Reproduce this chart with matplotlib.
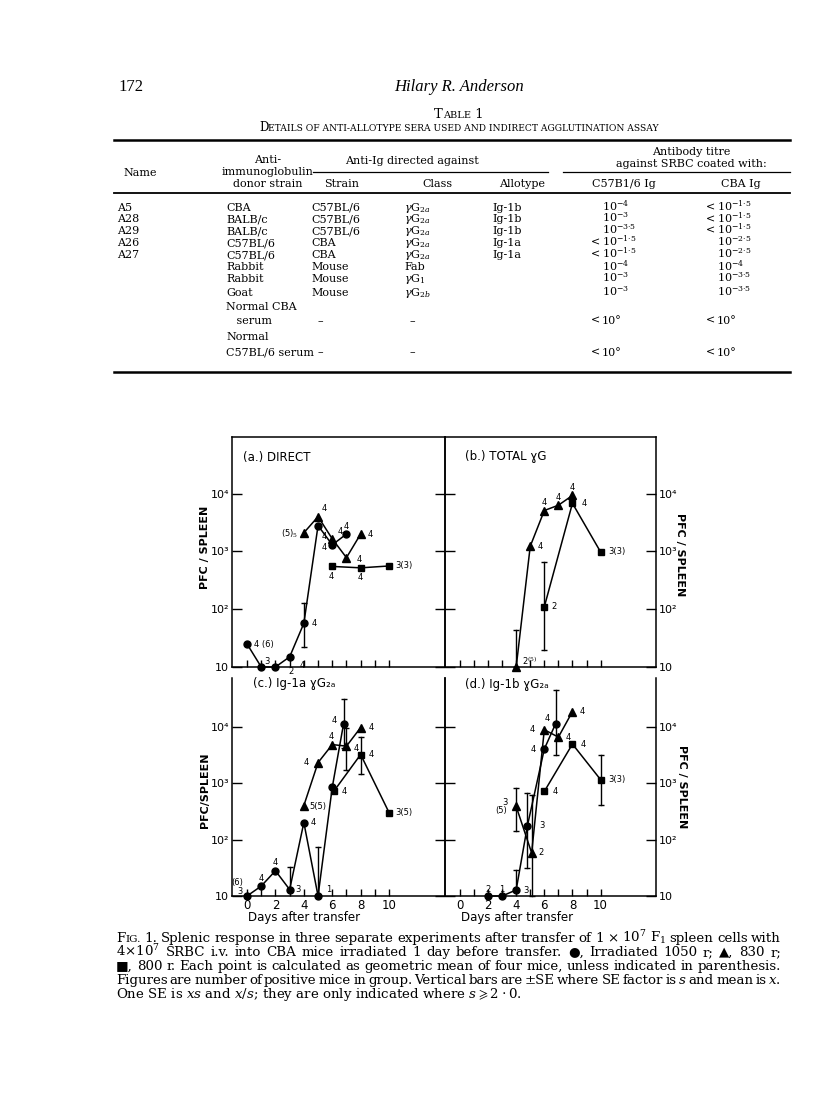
import numpy as np
import matplotlib
matplotlib.use('Agg')
import matplotlib.pyplot as plt
from matplotlib.ticker import NullLocator

plt.rcParams['mathtext.fontset'] = 'dejavuserif'
plt.rcParams['font.family'] = ['DejaVu Sans']
SERIF = ['DejaVu Serif', 'DejaVu Sans']
TIMES = ['Liberation Serif', 'DejaVu Serif']

W, H = 816, 1094

# ---------------- table data ----------------
tab_name = ['A5', 'A28', 'A29', 'A26', 'A27', '', '', '', '', '', '', '']
tab_donor = ['CBA', 'BALB/c', 'BALB/c', 'C57BL/6', 'C57BL/6', 'Rabbit', 'Rabbit', 'Goat',
             'Normal CBA', '   serum', 'Normal', 'C57BL/6 serum']
tab_strain = ['C57BL/6', 'C57BL/6', 'C57BL/6', 'CBA', 'CBA', 'Mouse', 'Mouse', 'Mouse',
              '', '\u2013', '', '\u2013']
tab_class = [r'$\gamma$G$_{2a}$'] * 5 + ['Fab', r'$\gamma$G$_1$', r'$\gamma$G$_{2b}$',
                                         '', '\u2013', '', '\u2013']
tab_allo = ['Ig-1b', 'Ig-1b', 'Ig-1b', 'Ig-1a', 'Ig-1a', '', '', '', '', '', '', '']
# titres: (less-than sign?, exponent text)
tab_c57 = [('', '-4'), ('', '-3'), ('', '-3\u00b75'), ('<', '-1\u00b75'), ('<', '-1\u00b75'),
           ('', '-4'), ('', '-3'), ('', '-3'), None, ('<', 'o'), None, ('<', 'o')]
tab_cba = [('<', '-1\u00b75'), ('<', '-1\u00b75'), ('<', '-1\u00b75'), ('', '-2\u00b75'),
           ('', '-2\u00b75'), ('', '-4'), ('', '-3\u00b75'), ('', '-3\u00b75'),
           None, ('<', 'o'), None, ('<', 'o')]

# ---------------- chart data (PFC / spleen vs days) ----------------
# (a) direct
a_circ_day = [0, 1, 2, 3, 4, 5, 6, 7]
a_circ_pfc = [25, 10, 10, 15, 57, 2800, 1300, 2000]
a_circ_n = ['4 (6)', '3', '2', '4', '4', '4', '4', '4']
a_tri_day = [4, 5, 6, 7, 8]
a_tri_pfc = [2100, 4000, 1650, 780, 2000]
a_tri_n = ['(5)$_5$', '4', '4', '4', '4']
a_sq_day = [6, 8, 10]
a_sq_pfc = [550, 520, 560]
a_sq_n = ['4', '4', '3(3)']
a_err_day = [4]
a_err_lo = [22]
a_err_hi = [130]

# (b) total gamma G
b_tri_day = [4, 5, 6, 7, 8]
b_tri_pfc = [10, 1230, 5100, 6300, 9300]
b_tri_n = ['2$^{(5)}$', '4', '4', '4', '4']
b_sq_day = [6, 8, 10]
b_sq_pfc = [110, 6800, 980]
b_sq_n = ['2', '4', '3(3)']
b_err_day = [4, 6]
b_err_lo = [10, 20]
b_err_hi = [43, 650]

# (c) Ig-1a gamma G2a
c_circ_day = [0, 1, 2, 3, 4, 5, 6, 6.8]
c_circ_pfc = [10, 15, 28, 13, 200, 10, 840, 11300]
c_circ_n = ['(6)\n   3', '4', '4', '3', '4', '1', '', '4']
c_tri_day = [4, 5, 6, 7, 8]
c_tri_pfc = [400, 2300, 4800, 4500, 9600]
c_tri_n = ['5(5)', '4', '4', '4', '4']
c_sq_day = [6.1, 8, 10]
c_sq_pfc = [710, 3200, 300]
c_sq_n = ['4', '4', '3(5)']
c_err_day = [3, 5, 6.8, 7, 8]
c_err_lo = [13, 10, 4200, 1700, 1450]
c_err_hi = [32, 75, 31000, 9500, 6500]

# (d) Ig-1b gamma G2a
d_circ_day = [2, 3, 4, 4.8, 6, 6.8]
d_circ_pfc = [10, 10, 12.8, 176, 4000, 11200]
d_circ_n = ['2', '1', '3', '3', '4', '4']
d_tri_day = [4, 5.1, 6, 7, 8]
d_tri_pfc = [385, 58, 8800, 6500, 18400]
d_tri_n = ['3\n(5)', '2', '4', '4', '4']
d_sq_day = [6, 8, 10]
d_sq_pfc = [710, 4900, 1150]
d_sq_n = ['4', '4', '3(3)']
d_err_day = [4, 4.8, 6.8, 4, 5.1, 10]
d_err_lo = [12.8, 31, 3160, 140, 10, 415]
d_err_hi = [29, 665, 45000, 820, 620, 3100]

# label offsets (pixels) for the little "number of mice" annotations
a_circ_off = [(7, 0), (3, 6), (13, -5), (10, -9), (8, 0), (4, -22), (-5, 8), (0, 8)]
a_tri_off = [(-6, -1), (4, 8), (5, 7), (10, -2), (7, 0)]
a_sq_off = [(-1, -10), (0, -10), (6, 0)]
b_tri_off = [(6, 6), (7, 0), (0, 8), (0, 8), (0, 8)]
b_sq_off = [(7, 0), (9, 0), (8, 0)]
c_circ_off = [(-4, 9), (0, 8), (0, 8), (6, 0), (7, 0), (8, 6), (0, 0), (-7, 3)]
c_tri_off = [(6, -1), (-9, 0), (-1, 8), (7, -2), (8, 0)]
c_sq_off = [(8, 0), (8, 0), (6, 0)]
d_circ_off = [(0, 7), (0, 7), (7, -1), (12, 0), (-8, 0), (-6, 5)]
d_tri_off = [(-9, 0), (7, 0), (-9, 0), (7, 0), (7, 0)]
d_sq_off = [(8, 0), (8, 0), (8, 0)]

fig = plt.figure(figsize=(W / 100, H / 100), dpi=100)
pg = fig.add_axes([0, 0, 1, 1])
pg.set_xlim(0, W)
pg.set_ylim(H, 0)
pg.axis('off')
rend = fig.canvas.get_renderer()


def width_of(t):
    return t.get_window_extent(rend).width


def runs(x, y, parts, ha='center', fam=SERIF, **kw):
    """draw (text, size) pieces side by side (used for small caps)"""
    ts = [pg.text(0, y, s, fontsize=sz, family=fam, va='baseline', **kw) for s, sz in parts]
    ws = [width_of(t) for t in ts]
    x0 = x - sum(ws) / 2 if ha == 'center' else x
    for t, w in zip(ts, ws):
        t.set_x(x0)
        x0 += w


def justify(words, x0, x1, y, size):
    items = []
    for w in words:
        parts = w if isinstance(w, list) else [(w, size)]
        ts = [pg.text(0, y, s, fontsize=sz, family=SERIF, va='baseline') for s, sz in parts]
        items.append((ts, [width_of(t) for t in ts]))
    total = sum(sum(ws) for _, ws in items)
    gap = (x1 - x0 - total) / (len(items) - 1)
    x = x0
    for ts, ws in items:
        for t, w in zip(ts, ws):
            t.set_x(x)
            x += w
        x += gap


# ---------------- page header ----------------
pg.text(118, 91, '172', fontsize=12, family=TIMES, va='baseline')
pg.text(459, 91, 'Hilary R. Anderson', fontsize=12, family=TIMES, style='italic',
        ha='center', va='baseline')
runs(459, 118, [('T', 9.5), ('ABLE', 7), (' 1', 9.5)])
runs(459, 131, [('D', 8.5), ('ETAILS OF ANTI-ALLOTYPE SERA USED AND INDIRECT AGGLUTINATION ASSAY', 6.6)])

# ---------------- table ----------------
fs = 8.0
L, R = 114, 790
pg.plot([L, R], [140, 140], color='k', lw=1.8)
pg.plot([L, R], [193, 193], color='k', lw=1.3)
pg.plot([L, R], [372, 372], color='k', lw=1.8)
pg.plot([313, 548], [172, 172], color='k', lw=0.9)
pg.plot([563, R], [172, 172], color='k', lw=0.9)

hd = dict(fontsize=fs, family=SERIF, ha='center', va='baseline')
pg.text(140, 176, 'Name', **hd)
pg.text(268, 163, 'Anti-', **hd)
pg.text(268, 175, 'immunoglobulin', **hd)
pg.text(268, 187, 'donor strain', **hd)
pg.text(412, 164, 'Anti-Ig directed against', **hd)
pg.text(342, 187, 'Strain', **hd)
pg.text(437, 187, 'Class', **hd)
pg.text(522, 187, 'Allotype', **hd)
pg.text(691, 155, 'Antibody titre', **hd)
pg.text(691, 167, 'against SRBC coated with:', **hd)
pg.text(624, 187, 'C57B1/6 Ig', **hd)
pg.text(741, 187, 'CBA Ig', **hd)

row_y = [211, 222.5, 234, 246, 258, 270.5, 282, 296, 309.5, 324, 339.5, 355.5]
bd = dict(fontsize=fs, family=SERIF, va='baseline')
for i, y in enumerate(row_y):
    pg.text(117, y, tab_name[i], **bd)
    pg.text(226, y, tab_donor[i], **bd)
    dash = tab_strain[i] == '\u2013'
    pg.text(318 if dash else 311, y, tab_strain[i], **bd)
    pg.text(410 if dash else 404, y, tab_class[i], **bd)
    pg.text(492, y, tab_allo[i], **bd)
    for col_x, val in ((602, tab_c57[i]), (717, tab_cba[i])):
        if val is None:
            continue
        lt, ex = val
        if lt:
            pg.text(col_x - 2, y, '<', ha='right', **bd)
        if ex == 'o':
            pg.text(col_x, y, '10\u00b0', **bd)
        else:
            pg.text(col_x, y, '10$^{' + ex + '}$', **bd)


# ---------------- chart ----------------
def rect(l, t, r, b):
    return [l / W, 1 - b / H, (r - l) / W, (b - t) / H]


def panel(ax, series, err_day, err_lo, err_hi, ytop, side, bottom):
    ax.set_yscale('log')
    ax.set_xlim(-1.06, 13.94)
    ax.set_ylim(10, ytop)
    for days, vals, labs, offs, mk, ms in series:
        ax.plot(days, vals, '-', color='k', lw=1.1, marker=mk, ms=ms, mfc='k', mec='k',
                clip_on=False, zorder=3)
        for d, v, lab, (dx, dy) in zip(days, vals, labs, offs):
            if not lab:
                continue
            ha = 'left' if dx > 2 else ('right' if dx < -2 else 'center')
            ax.annotate(lab, (d, v), xytext=(dx, dy), textcoords='offset pixels',
                        fontsize=6, ha=ha, va='center', linespacing=0.9)
    for d, lo, hi in zip(err_day, err_lo, err_hi):
        ax.plot([d, d], [lo, hi], color='k', lw=1, clip_on=False)
        ax.plot([d, d], [lo, hi], ls='none', marker='_', ms=5, mew=1, color='k', clip_on=False)
    ax.yaxis.set_minor_locator(NullLocator())
    ax.set_yticks([10, 100, 1000, 10000])
    ax.set_yticklabels(['10', '10\u00b2', '10\u00b3', '10\u2074'])
    ax.tick_params(axis='y', direction='in', length=7, width=1, left=True, right=True,
                   labelleft=(side == 'left'), labelright=(side == 'right'), labelsize=8, pad=2)
    ax.set_xticks(range(0, 11))
    ax.set_xticklabels(['0', '', '2', '', '4', '', '6', '', '8', '', '10'])
    ax.tick_params(axis='x', direction='in', length=5, width=1, labelbottom=bottom,
                   labelsize=8.5, pad=2)
    for sp in ax.spines.values():
        sp.set_linewidth(1.1)
    if bottom:
        ax.spines['top'].set_visible(False)
        ax.set_xlabel('Days after transfer', fontsize=8.5, labelpad=0)
        ax.xaxis.set_label_coords(0.34, -0.07)


ax_a = fig.add_axes(rect(232, 437, 445, 667))
ax_b = fig.add_axes(rect(445, 437, 656, 667))
ax_c = fig.add_axes(rect(232, 678, 445, 896))
ax_d = fig.add_axes(rect(445, 678, 656, 896))
for a in (ax_a, ax_b, ax_c, ax_d):
    a.patch.set_alpha(0)

panel(ax_a, [(a_circ_day, a_circ_pfc, a_circ_n, a_circ_off, 'o', 5),
             (a_tri_day, a_tri_pfc, a_tri_n, a_tri_off, '^', 6),
             (a_sq_day, a_sq_pfc, a_sq_n, a_sq_off, 's', 5)],
      a_err_day, a_err_lo, a_err_hi, 10 ** 4.98, 'left', False)
panel(ax_b, [(b_tri_day, b_tri_pfc, b_tri_n, b_tri_off, '^', 6),
             (b_sq_day, b_sq_pfc, b_sq_n, b_sq_off, 's', 5)],
      b_err_day, b_err_lo, b_err_hi, 10 ** 4.98, 'right', False)
panel(ax_c, [(c_circ_day, c_circ_pfc, c_circ_n, c_circ_off, 'o', 5),
             (c_tri_day, c_tri_pfc, c_tri_n, c_tri_off, '^', 6),
             (c_sq_day, c_sq_pfc, c_sq_n, c_sq_off, 's', 5)],
      c_err_day, c_err_lo, c_err_hi, 10 ** 4.86, 'left', True)
panel(ax_d, [(d_circ_day, d_circ_pfc, d_circ_n, d_circ_off, 'o', 5),
             (d_tri_day, d_tri_pfc, d_tri_n, d_tri_off, '^', 6),
             (d_sq_day, d_sq_pfc, d_sq_n, d_sq_off, 's', 5)],
      d_err_day, d_err_lo, d_err_hi, 10 ** 4.86, 'right', True)

ax_a.text(0.05, 0.91, '(a.) DIRECT', transform=ax_a.transAxes, fontsize=8.5, va='center')
ax_b.text(0.095, 0.915, '(b.) TOTAL \u0263G', transform=ax_b.transAxes, fontsize=8.5, va='center')
ax_c.text(0.10, 0.975, '(c.) Ig-1a \u0263G\u2082\u2090', transform=ax_c.transAxes, fontsize=8.5, va='center')
ax_d.text(0.095, 0.968, '(d.) Ig-1b \u0263G\u2082\u2090', transform=ax_d.transAxes, fontsize=8.5, va='center')

yl = dict(fontsize=8, fontweight='bold', ha='center', va='center')
ax_a.text(-0.125, 0.52, 'PFC / SPLEEN', transform=ax_a.transAxes, rotation=90, **yl)
ax_c.text(-0.125, 0.486, 'PFC/SPLEEN', transform=ax_c.transAxes, rotation=90, **yl)
ax_b.text(1.115, 0.487, 'PFC / SPLEEN', transform=ax_b.transAxes, rotation=270, **yl)
ax_d.text(1.122, 0.50, 'PFC / SPLEEN', transform=ax_d.transAxes, rotation=270, **yl)

# ---------------- caption ----------------
cs = 9.6
lines = [
    [[('F', cs), ('IG.', cs * 0.78)]] + '1. Splenic response in three separate experiments after transfer of 1 \u00d7 10$^7$ F$_1$ spleen cells with'.split(),
    '4\u00d710$^7$ SRBC i.v. into CBA mice irradiated 1 day before transfer. \u25cf, Irradiated 1050 r; \u25b2, 830 r;'.split(),
    '\u25a0, 800 r. Each point is calculated as geometric mean of four mice, unless indicated in parenthesis.'.split(),
    'Figures are number of positive mice in group. Vertical bars are \u00b1SE where SE factor is $s$ and mean is $x$.'.split(),
]
cy = [942, 956, 970, 984]
for words, y in zip(lines, cy):
    justify(words, 116, 781, y, cs)
pg.text(116, 998, r'One SE is $xs$ and $x/s$; they are only indicated where $s\geqslant 2\cdot0$.',
        fontsize=cs, family=SERIF, va='baseline')

fig.savefig('out.png', dpi=100)
